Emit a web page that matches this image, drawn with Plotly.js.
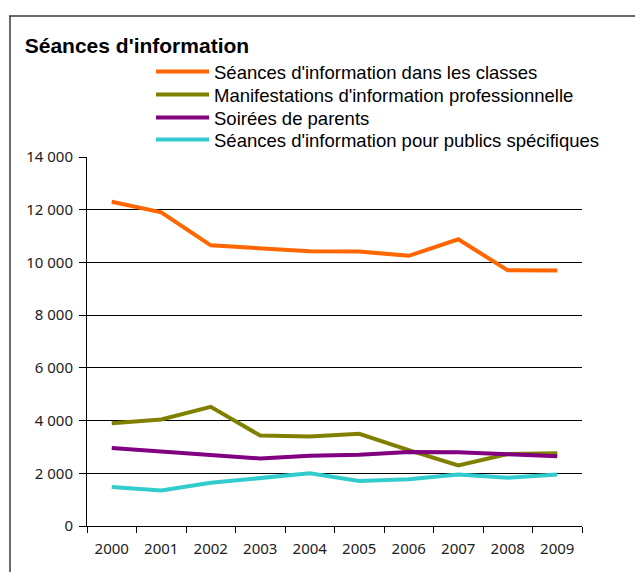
<!DOCTYPE html>
<html>
<head>
<meta charset="utf-8">
<script src="https://cdn.plot.ly/plotly-3.0.1.min.js"></script>
<style>
  html, body { margin: 0; padding: 0; background: #fff; }
  #chart { width: 635px; height: 572px; }
</style>
</head>
<body>
<div id="chart"></div>
<script>
const years = ["2000", "2001", "2002", "2003", "2004", "2005", "2006", "2007", "2008", "2009"];

const seancesClasses = [12300, 11900, 10650, 10550, 10420, 10410, 10250, 10880, 9700, 9690];
const manifestations = [3900, 4040, 4520, 3430, 3400, 3500, 2880, 2300, 2730, 2760];
const soireesParents = [2960, 2830, 2700, 2560, 2670, 2700, 2810, 2800, 2720, 2650];
const publicsSpecifiques = [1480, 1350, 1640, 1830, 2000, 1710, 1770, 1950, 1830, 1950];

const seriesNames = [
  "Séances d'information dans les classes",
  "Manifestations d'information professionnelle",
  "Soirées de parents",
  "Séances d'information pour publics spécifiques"
];
const seriesColors = ["#FF6600", "#808000", "#800080", "#33CCCC"];
const seriesValues = [seancesClasses, manifestations, soireesParents, publicsSpecifiques];

// one legend per series so the rows sit as tight as in the original
const legendIds = ["legend", "legend2", "legend3", "legend4"];
const legendTops = [53, 76, 99, 121];

const traces = seriesValues.map((vals, i) => ({
  type: "scatter",
  mode: "lines",
  x: years,
  y: vals,
  name: seriesNames[i],
  legend: legendIds[i],
  line: { color: seriesColors[i], width: 4 },
  hovertemplate: "%{x}: %{y}<extra></extra>"
}));

const legendFont = { family: "Liberation Sans, Arial, sans-serif", size: 18.5, color: "#000" };

// outer frame of the original chart (top and left edges only)
const frame = { color: "#3a3a3a", width: 1.5 };

const layout = {
  width: 635,
  height: 572,
  paper_bgcolor: "#fff",
  plot_bgcolor: "#fff",
  margin: { l: 87, r: 53, t: 157, b: 46 },
  separators: ", ",
  font: { family: "Liberation Sans, Arial, sans-serif", size: 14, color: "#000" },
  title: {
    text: "<b>Séances d'information</b>",
    font: { family: "Liberation Sans, Arial, sans-serif", size: 21, color: "#000" },
    xref: "container", yref: "container",
    x: 0.039, xanchor: "left",
    y: 1 - 46 / 572, yanchor: "middle"
  },
  showlegend: true,
  xaxis: {
    type: "category",
    range: [-0.5, 9.5],
    tickson: "boundaries",
    ticks: "outside", ticklen: 6, tickcolor: "#000", tickwidth: 1,
    showline: true, linecolor: "#000", linewidth: 1,
    showgrid: false, zeroline: false,
    ticklabelstandoff: 9,
    tickfont: { family: "Noto Sans, sans-serif", size: 15, color: "#222" }
  },
  yaxis: {
    range: [0, 14000],
    dtick: 2000,
    tickformat: ",d",
    ticks: "outside", ticklen: 7, tickcolor: "#000", tickwidth: 1,
    showline: true, linecolor: "#000", linewidth: 1,
    showgrid: true, gridcolor: "#000", gridwidth: 1,
    zeroline: false,
    ticklabelstandoff: 3,
    tickfont: { family: "Noto Sans, sans-serif", size: 15, color: "#222" }
  },
  shapes: [
    { type: "line", xref: "paper", yref: "paper", x0: (9 - 87) / 495, x1: (640 - 87) / 495, y0: (526 - 16) / 369, y1: (526 - 16) / 369, line: frame },
    { type: "line", xref: "paper", yref: "paper", x0: (10 - 87) / 495, x1: (10 - 87) / 495, y0: (526 - 16) / 369, y1: (526 - 580) / 369, line: frame }
  ]
};

legendIds.forEach((id, i) => {
  layout[id] = {
    x: (151 - 87) / 495, xanchor: "left",
    y: (526 - legendTops[i]) / 369, yanchor: "top",
    bgcolor: "rgba(0,0,0,0)",
    itemwidth: 53,
    font: legendFont
  };
});

Plotly.newPlot("chart", traces, layout, { displayModeBar: false, staticPlot: true });
</script>
</body>
</html>
